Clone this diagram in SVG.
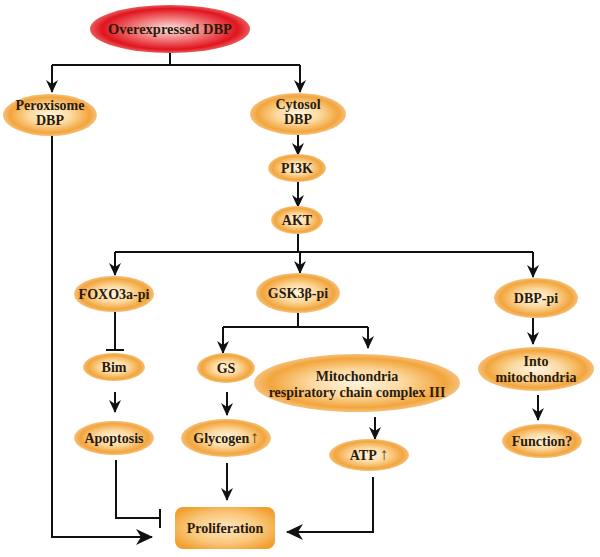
<svg xmlns="http://www.w3.org/2000/svg" width="600" height="557" viewBox="0 0 600 557">
<defs>
<radialGradient id="og" cx="50%" cy="50%" r="50%">
<stop offset="0" stop-color="#fff4e0"/>
<stop offset="0.45" stop-color="#fcd9a0"/>
<stop offset="0.85" stop-color="#f2a53c"/>
<stop offset="1" stop-color="#f6c07a"/>
</radialGradient>
<radialGradient id="rg" cx="50%" cy="50%" r="50%">
<stop offset="0" stop-color="#fbe3e3"/>
<stop offset="0.45" stop-color="#f27a7a"/>
<stop offset="0.85" stop-color="#e0141e"/>
<stop offset="1" stop-color="#ea5a5a"/>
</radialGradient>
<radialGradient id="pg" cx="50%" cy="50%" r="60%">
<stop offset="0" stop-color="#fde8c4"/>
<stop offset="0.6" stop-color="#f9c77a"/>
<stop offset="1" stop-color="#f0a030"/>
</radialGradient>
<marker id="ah" markerUnits="userSpaceOnUse" markerWidth="14" markerHeight="14" viewBox="0 0 14 14" refX="12" refY="7" orient="auto">
<path d="M0,1 L13,7 L0,13 L4,7 z" fill="#111"/>
</marker>
<marker id="ahb" markerUnits="userSpaceOnUse" markerWidth="18" markerHeight="18" viewBox="0 0 18 18" refX="16" refY="9" orient="auto">
<path d="M0,1 L17,9 L0,17 L5,9 z" fill="#111"/>
</marker>
</defs>
<style>
.n{fill:url(#og)}
.t{font-family:"Liberation Serif","Times New Roman",serif;font-weight:bold;font-size:14px;fill:#2a1a0a;text-anchor:middle}
.c{fill:none;stroke:#111;stroke-width:2}
.a{marker-end:url(#ah)}
.u{font-weight:normal;fill:#5a3010;font-size:17px}
</style>
<rect width="600" height="557" fill="#fff"/>
<g id="connectors">
<path class="c" d="M170,53 V65 M52,65 H300"/>
<path class="c a" d="M52,65 V92"/>
<path class="c a" d="M300,65 V92"/>
<path class="c" d="M52,134 V537 H140"/>
<path class="c" d="M52,537 H152" marker-end="url(#ahb)"/>
<path class="c a" d="M298,135 V155"/>
<path class="c a" d="M298,182 V207"/>
<path class="c" d="M298,233 V252 M115,252 H533"/>
<path class="c a" d="M115,252 V275"/>
<path class="c a" d="M300,252 V273"/>
<path class="c a" d="M533,252 V277"/>
<path class="c" d="M115,312 V350 M106,350 H124"/>
<path class="c a" d="M115,392 V412"/>
<path class="c" d="M298,313 V327 M223,327 H368"/>
<path class="c a" d="M223,327 V353"/>
<path class="c a" d="M368,327 V348"/>
<path class="c a" d="M227,392 V415"/>
<path class="c a" d="M375,417 V439"/>
<path class="c a" d="M227,463 V500"/>
<path class="c" d="M116,460 V518 H160 M160,509 V528"/>
<path class="c" d="M373,477 V532 H290"/>
<path class="c" d="M290,532 H287" marker-end="url(#ahb)"/>
<path class="c a" d="M533,318 V344"/>
<path class="c a" d="M538,395 V420"/>
</g>
<g id="overexpressed"><ellipse cx="170" cy="29" rx="80" ry="24" fill="url(#rg)"/><text class="t" x="170" y="34" style="font-size:14.5px">Overexpressed DBP</text></g>
<g id="peroxisome"><ellipse class="n" cx="50" cy="115" rx="47" ry="21"/><text class="t" x="50" y="110">Peroxisome</text><text class="t" x="50" y="125">DBP</text></g>
<g id="cytosol"><ellipse class="n" cx="298" cy="114" rx="48" ry="21"/><text class="t" x="298" y="109">Cytosol</text><text class="t" x="298" y="124">DBP</text></g>
<g id="pi3k"><ellipse class="n" cx="297" cy="168" rx="29" ry="14"/><text class="t" x="297" y="173">PI3K</text></g>
<g id="akt"><ellipse class="n" cx="297" cy="220" rx="26" ry="14"/><text class="t" x="297" y="225">AKT</text></g>
<g id="foxo3a"><ellipse class="n" cx="114" cy="294" rx="40" ry="18"/><text class="t" x="114" y="299">FOXO3a-pi</text></g>
<g id="gsk3b"><ellipse class="n" cx="298" cy="293" rx="42" ry="20"/><text class="t" x="298" y="298">GSK3β-pi</text></g>
<g id="dbppi"><ellipse class="n" cx="536" cy="298" rx="42" ry="20"/><text class="t" x="536" y="303">DBP-pi</text></g>
<g id="bim"><ellipse class="n" cx="114" cy="367" rx="31" ry="14"/><text class="t" x="114" y="372">Bim</text></g>
<g id="gs"><ellipse class="n" cx="226" cy="368" rx="29" ry="15"/><text class="t" x="226" y="373">GS</text></g>
<g id="mito"><ellipse class="n" cx="357" cy="383" rx="103" ry="29"/><text class="t" x="357" y="381">Mitochondria</text><text class="t" x="357" y="397">respiratory chain complex III</text></g>
<g id="into"><ellipse class="n" cx="536" cy="369" rx="58" ry="22"/><text class="t" x="536" y="366">Into</text><text class="t" x="536" y="382">mitochondria</text></g>
<g id="apoptosis"><ellipse class="n" cx="114" cy="438" rx="40" ry="17"/><text class="t" x="114" y="443">Apoptosis</text></g>
<g id="glycogen"><ellipse class="n" cx="226" cy="438" rx="45" ry="19"/><text class="t" x="226" y="443">Glycogen<tspan class="u" dx="1">↑</tspan></text></g>
<g id="atp"><ellipse class="n" cx="369" cy="455" rx="40" ry="16"/><text class="t" x="369" y="460">ATP<tspan class="u" dx="3">↑</tspan></text></g>
<g id="function"><ellipse class="n" cx="542" cy="441" rx="40" ry="17"/><text class="t" x="542" y="446">Function?</text></g>
<g id="proliferation"><rect x="175" y="507" width="100" height="42" rx="8" fill="url(#pg)"/><text class="t" x="225" y="533">Proliferation</text></g>
</svg>
